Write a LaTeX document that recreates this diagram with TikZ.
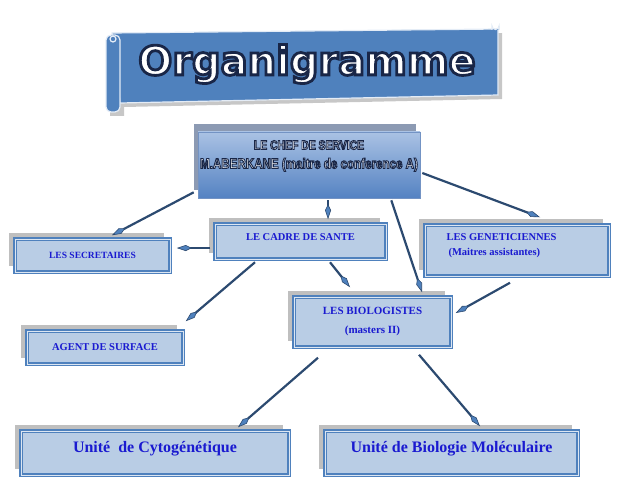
\documentclass[tikz,border=0pt]{standalone}
\usepackage{fontspec}
\setmainfont{Liberation Serif}
\newfontfamily\titlefont{DejaVu Sans}
\newfontfamily\cheffont[FakeStretch=0.8]{Liberation Sans}
\usepackage{tikz}
\usetikzlibrary{arrows.meta,shadows,positioning}

\definecolor{boxfill}{HTML}{B9CDE5}
\definecolor{boxline}{HTML}{4F81BD}
\definecolor{boxinner}{HTML}{DCE6F2}
\definecolor{shade}{HTML}{BFBFBF}
\definecolor{labelblue}{HTML}{1A1AD0}
\definecolor{arrowline}{HTML}{2C4A70}
\definecolor{chefline}{HTML}{7393C4}
\definecolor{cheftop}{HTML}{AAC2E4}
\definecolor{chefbottom}{HTML}{5482C2}
\definecolor{chefshade}{HTML}{8C9AB3}
\definecolor{bannerline}{HTML}{E4ECF6}

% white letters with a dark outline
\newcommand{\outlined}[2]{\special{pdf:literal direct 2 Tr #1 w 0.1 0.15 0.28 RG}#2\special{pdf:literal direct 0 Tr}}

\begin{document}
\begin{tikzpicture}[x=1pt, y=-1pt,
	box/.style={rectangle, inner sep=0pt, fill=boxfill, draw=boxline, line width=1.5pt,
		double=boxinner, double distance=1pt, text=labelblue,
		general shadow={fill=shade, shadow xshift=-6pt, shadow yshift=6pt}},
	chefbox/.style={rectangle, inner sep=0pt, draw=chefline, line width=0.6pt,
		top color=cheftop, bottom color=chefbottom,
		general shadow={fill=chefshade, shadow xshift=-4pt, shadow yshift=8pt}},
	unit/.style={box, minimum height=44, text height=11pt, text depth=12.4pt,
		font=\bfseries\fontsize{16}{18}\selectfont},
	arr/.style={arrowline, line width=2.2pt,
		-{Kite[length=15pt, width=6pt, inset=6pt, fill=boxline, color=arrowline, line width=0.6pt]}}]
	\useasboundingbox (0,0) rectangle (626,492);

	% Banner {Organigramme}
	\fill [black!22] (116,37) -- (502,33) -- (502,99) -- (124,107) -- (124,116) -- (110,116) -- cycle;
	\filldraw [fill=boxline, draw=bannerline, line width=1.2pt] (112,33) -- (498,29) -- (498,95) -- (120,103) -- cycle;
	\filldraw [fill=boxline, draw=bannerline, line width=1.2pt, rounded corners=5pt] (106,35) rectangle (120,112);
	\draw [bannerline, line width=1.2pt] (113,39) circle (3);
	\filldraw [fill=boxline, draw=bannerline, line width=1.2pt] (492,30) -- (492,26) arc (180:0:3.5) -- (499,30);
	\node (title) [font=\titlefont\bfseries\fontsize{40}{40}\selectfont, text=white]
		at (307,64) {\outlined{2.8}{Organigramme}};

	% Nodes {chef, secr, cadre, genet, agent, bio, cyto, biomol}
	\node [chefbox, minimum width=222, minimum height=66] (chef) at (309,165) {};
	\node [font=\cheffont\bfseries\fontsize{13}{13}\selectfont, text=white, align=center] (cheftext) at (309,156)
		{\outlined{0.9}{LE CHEF DE SERVICE}\\[6pt]
		\fontsize{14.5}{13}\selectfont\outlined{0.9}{M.ABERKANE (maitre de conference A)}};
	\node [box, minimum width=155, minimum height=33, font=\bfseries\fontsize{9.5}{11}\selectfont]
		(secr) at (92.5,255.5) {LES SECRETAIRES};
	\node [box, minimum width=171, minimum height=35, text height=8pt, text depth=10pt,
		font=\bfseries\fontsize{10.5}{12}\selectfont] (cadre) at (300.5,241.5) {LE CADRE DE SANTE};
	\node [box, minimum width=184, minimum height=51] (genet) at (517,250.5) {};
	\node [anchor=west, align=left, text=labelblue, font=\bfseries\fontsize{10.5}{15}\selectfont]
		(genettext) at (443,245.5) {LES GENETICIENNES\\\hspace{2pt}(Maitres assistantes)};
	\node [box, minimum width=156, minimum height=33, font=\bfseries\fontsize{10.5}{12}\selectfont]
		(agent) at (105,347.5) {AGENT DE SURFACE};
	\node [box, minimum width=157, minimum height=50, align=center,
		font=\bfseries\fontsize{11}{19}\selectfont] (bio) at (372.5,322) {LES BIOLOGISTES\\(masters II)};
	\node [unit, minimum width=268] (cyto) at (155,453) {Unité\ \ de Cytogénétique};
	\node [unit, minimum width=253] (biomol) at (451.5,453) {Unité de Biologie Moléculaire};

	% Paths {chef, cadre, genet, bio}
	\path [arr] ([shift={(-4,-6)}]chef.south west) edge ([shift={(19.5,-3)}]secr.north)
		([shift={(19,2)}]chef.south) edge ([shift={(27.5,-4)}]cadre.north)
		([shift={(-29,2)}]chef.south east) edge ([shift={(49.5,-4)}]bio.north)
		([shift={(2,8)}]chef.east) edge ([shift={(23,-7)}]genet.north)
		([shift={(-4,6.5)}]cadre.west) edge ([shift={(6,-7.5)}]secr.east)
		([shift={(-45.5,2.5)}]cadre.south) edge ([shift={(2,-9)}]agent.north east)
		([shift={(29.5,2.5)}]cadre.south) edge ([shift={(-22.5,-9)}]bio.north)
		([shift={(-7,6)}]genet.south) edge ([shift={(4,-9)}]bio.east)
		([shift={(-54.5,10)}]bio.south) edge ([shift={(83,-3)}]cyto.north)
		([shift={(46.5,7)}]bio.south) edge ([shift={(28.5,-4)}]biomol.north);

\end{tikzpicture}
\end{document}
